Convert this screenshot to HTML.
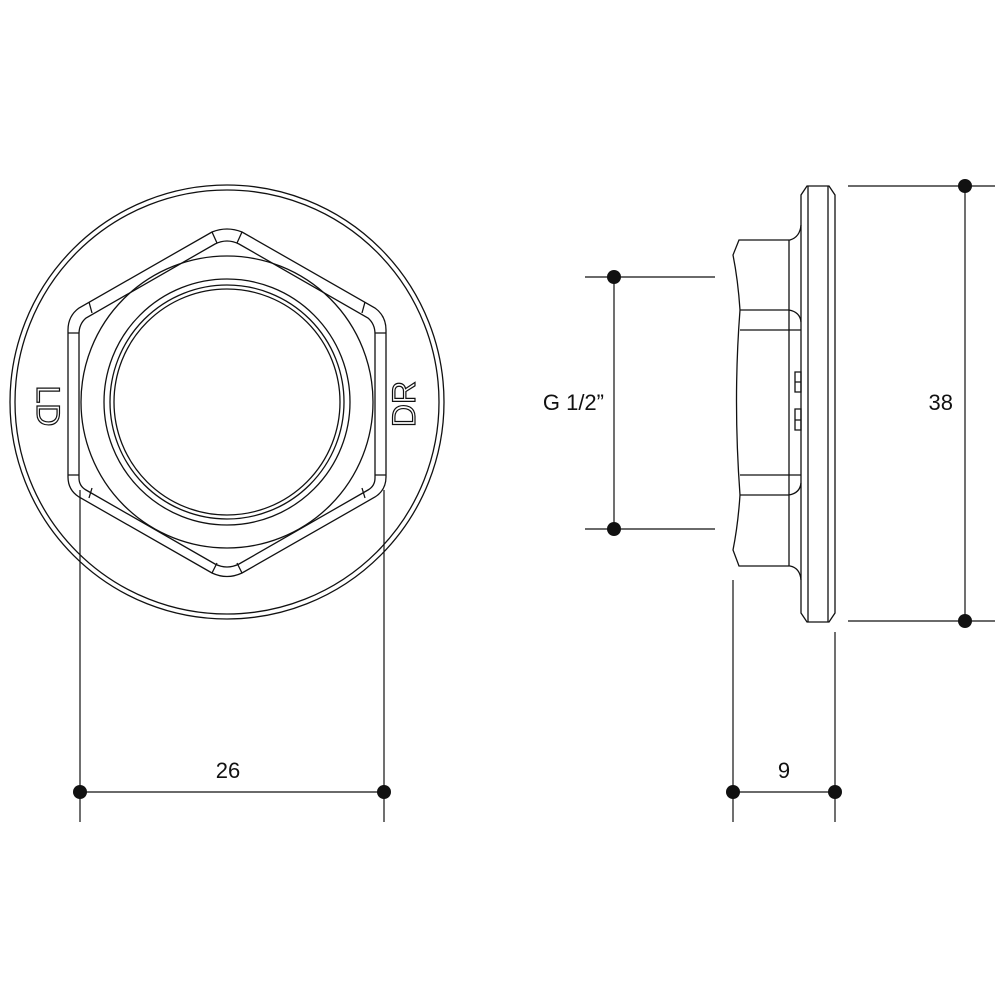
<!DOCTYPE html>
<html><head><style>body{margin:0;background:#fff}</style></head><body>
<svg width="1000" height="1000" viewBox="0 0 1000 1000" xmlns="http://www.w3.org/2000/svg" font-family="Liberation Sans, sans-serif">
<g fill="none" stroke="#111" stroke-width="1.3">
<circle cx="227" cy="402" r="217"/>
<circle cx="227" cy="402" r="212"/>
<path d="M212 232 Q227 226 242 232 L375 308 Q386 316 386 330 L386 477 Q386 490 375 497 L242 573 Q227 580 212 573 L79 497 Q68 490 68 477 L68 330 Q68 316 79 308 Z"/>
<path d="M215 244 Q227 238 239 244 L368 318 Q375 324 375 334 L375 478 Q375 486 368 490 L239 564 Q227 570 215 564 L86 490 Q79 486 79 478 L79 334 Q79 324 86 318 Z"/>
<path d="M79 333 H68 M386 333 H375 M79 475 H68 M386 475 H375 M212 232 L217 243 M242 232 L237 243 M212 573 L217 563 M242 573 L237 563 M89 302 L92 313 M365 302 L362 313 M89 498 L92 488 M365 498 L362 488"/>
<circle cx="227" cy="402" r="146"/>
<circle cx="227" cy="402" r="123"/>
<circle cx="227" cy="402" r="117"/>
<circle cx="227" cy="402" r="113"/>
<!-- side view -->
<path d="M807 186 H829 L835 195 V613 L829 622 H807 L801 613 V195 Z"/>
<line x1="808" y1="186" x2="808" y2="622"/><line x1="828" y1="186" x2="828" y2="622"/>
<path d="M801 225 Q800 237 790 240 H739 L733 255 Q738 280 740 310 Q733 400 740 495 Q738 525 733 550 L739 566 H790 Q800 568 801 580"/>
<path d="M789 240 V566 M740 310 H789 Q800 312 801 322 M740 330 H801 M740 475 H801 M740 495 H789 Q800 493 801 483"/>
<path d="M795 372 H801 V392 H795 Z M795 409 H801 V430 H795 Z M795 382 H801 M795 420 H801"/>
</g>
<g stroke="#111" stroke-width="1.2" fill="none">
<line x1="80" y1="490" x2="80" y2="822"/><line x1="384" y1="490" x2="384" y2="822"/>
<line x1="80" y1="792" x2="384" y2="792"/>
<line x1="733" y1="580" x2="733" y2="822"/><line x1="835" y1="632" x2="835" y2="822"/>
<line x1="733" y1="792" x2="835" y2="792"/>
<line x1="585" y1="277" x2="715" y2="277"/><line x1="585" y1="529" x2="715" y2="529"/>
<line x1="614" y1="277" x2="614" y2="529"/>
<line x1="848" y1="186" x2="995" y2="186"/><line x1="848" y1="621" x2="995" y2="621"/>
<line x1="965" y1="186" x2="965" y2="621"/>
</g>
<g fill="#111">
<circle cx="80" cy="792" r="7"/><circle cx="384" cy="792" r="7"/>
<circle cx="733" cy="792" r="7"/><circle cx="835" cy="792" r="7"/>
<circle cx="614" cy="277" r="7"/><circle cx="614" cy="529" r="7"/>
<circle cx="965" cy="186" r="7"/><circle cx="965" cy="621" r="7"/>
</g>
<g font-size="22" fill="#111">
<text x="228" y="778" text-anchor="middle">26</text>
<text x="784" y="778" text-anchor="middle">9</text>
<text x="604" y="410" text-anchor="end">G 1/2”</text>
<text x="953" y="410" text-anchor="end">38</text>
</g>
<g font-size="32" fill="none" stroke="#111" stroke-width="1.2">
<text transform="translate(37,406) rotate(90)" text-anchor="middle">LD</text>
<text transform="translate(415,404) rotate(-90)" text-anchor="middle">DR</text>
</g>
</svg>
</body></html>
